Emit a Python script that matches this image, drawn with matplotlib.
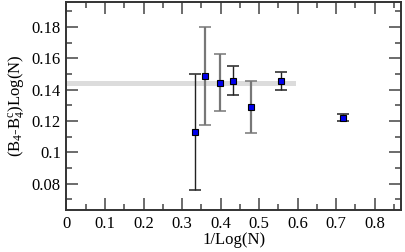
import matplotlib
matplotlib.use("Agg")
import matplotlib.pyplot as plt
import numpy as np

plt.rcParams['font.family'] = ['Liberation Serif', 'DejaVu Serif']
plt.rcParams['mathtext.fontset'] = 'custom'
plt.rcParams['mathtext.rm'] = 'Liberation Serif'
plt.rcParams['mathtext.it'] = 'Liberation Serif'

# data
x = np.array([0.3325, 0.359, 0.399, 0.432, 0.479, 0.556, 0.718])
y = np.array([0.113, 0.1487, 0.1443, 0.1455, 0.1291, 0.1455, 0.1221])
y_top = np.array([0.1498, 0.1802, 0.1626, 0.1549, 0.1457, 0.1511, 0.1247])
y_bot = np.array([0.0762, 0.1172, 0.1262, 0.1364, 0.1126, 0.1400, 0.1202])
bar_gray = [False, True, True, False, True, False, False]

band_lo, band_hi = 0.1423, 0.1455
band_x = [0.0, 0.597]

fig = plt.figure(figsize=(4.06, 2.52), dpi=100)
ax = fig.add_axes([66.5/406, 42/252, (401.5-66.5)/406, 208/252])

ax.fill_between(band_x, band_lo, band_hi, color='#dcdcdc', lw=0, zorder=1)

for i in range(len(x)):
    c = '#777777' if bar_gray[i] else '#222222'
    lw = 1.6 if bar_gray[i] else 1.0
    ax.errorbar(x[i], y[i], yerr=[[y[i]-y_bot[i]], [y_top[i]-y[i]]], fmt='none',
                ecolor=c, elinewidth=lw, capsize=4.5, capthick=1.1, zorder=2)
ax.plot(x, y, 's', ms=4.5, mfc='#0000ee', mec='black', mew=0.8, ls='none', zorder=3)

ax.set_xlim(0, 0.87)
ax.set_ylim(0.0632, 0.196)
ax.set_xticks(np.arange(0, 0.81, 0.1))
ax.set_xticklabels(['0', '0.1', '0.2', '0.3', '0.4', '0.5', '0.6', '0.7', '0.8'])
ax.set_xticks(np.arange(0.05, 0.87, 0.1), minor=True)
ax.set_yticks([0.08, 0.1, 0.12, 0.14, 0.16, 0.18])
ax.set_yticklabels(['0.08', '0.1', '0.12', '0.14', '0.16', '0.18'])
ax.set_yticks(np.arange(0.07, 0.196, 0.02), minor=True)
ax.tick_params(which='both', direction='in', top=True, right=True, labelsize=12, color='#444444')
ax.tick_params(which='major', length=8.5, width=1.1, pad=4)
ax.tick_params(which='minor', length=4.5, width=1.1)
for s in ax.spines.values():
    s.set_linewidth(1.4)
    s.set_color('#333333')

ax.set_xlabel('1/Log(N)', fontsize=12, labelpad=0)
ax.set_ylabel('(B$_4$-B$_4^c$)Log(N)', fontsize=12, labelpad=4)

fig.savefig('out.png', dpi=100)
